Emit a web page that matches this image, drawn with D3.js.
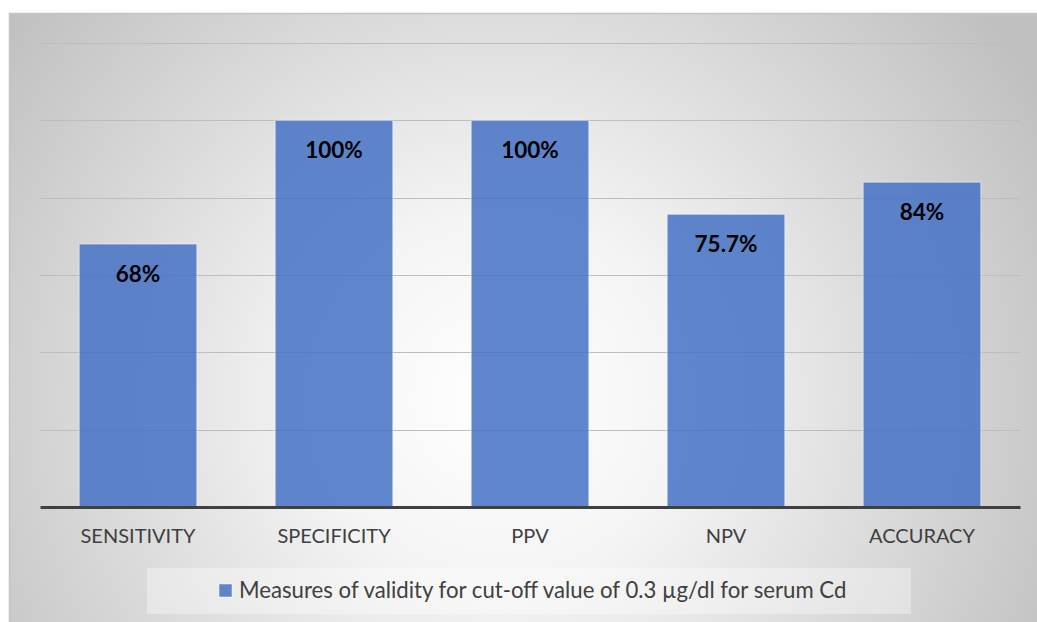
<!DOCTYPE html>
<html>
<head>
<meta charset="utf-8">
<script src="https://cdn.jsdelivr.net/npm/d3@7"></script>
<style>
  html, body { margin: 0; padding: 0; background: #fff; }
  svg { display: block; font-family: Lato, "Open Sans", sans-serif; }
</style>
</head>
<body>
<div id="chart"></div>
<script>
'use strict';

// data
let categories = ['SENSITIVITY', 'SPECIFICITY', 'PPV', 'NPV', 'ACCURACY'];
let values = [0.68, 1.00, 1.00, 0.757, 0.84];
let valueLabels = ['68%', '100%', '100%', '75.7%', '84%'];
let gridTicks = [0.2, 0.4, 0.6, 0.8, 1.0, 1.2];
let seriesName = 'Measures of validity for cut-off value of 0.3 \u00b5g/dl for serum Cd';

let width = 1037,
    height = 622;

let plot = { left: 40, right: 1020, top: 43, bottom: 507 };

let svg = d3.select('#chart').append('svg')
    .attr('width', width)
    .attr('height', height);

// background gradient
let defs = svg.append('defs');
let grad = defs.append('radialGradient')
    .attr('id', 'bg')
    .attr('gradientUnits', 'userSpaceOnUse')
    .attr('cx', 500).attr('cy', 400).attr('r', 620);
grad.append('stop').attr('offset', '0%').attr('stop-color', '#ffffff');
grad.append('stop').attr('offset', '30%').attr('stop-color', '#f4f4f4');
grad.append('stop').attr('offset', '100%').attr('stop-color', '#c0c0c0');

svg.append('rect')
    .attr('x', 9).attr('y', 13)
    .attr('width', width - 9).attr('height', height - 13)
    .attr('fill', 'url(#bg)');
svg.append('line')
    .attr('x1', 9).attr('x2', width)
    .attr('y1', 13.5).attr('y2', 13.5)
    .attr('stroke', '#c4c4c4').attr('stroke-width', 1.5);
svg.append('line')
    .attr('x1', 9.5).attr('x2', 9.5)
    .attr('y1', 13).attr('y2', height)
    .attr('stroke', '#c4c4c4').attr('stroke-width', 1.5);

// scales
let x = d3.scaleBand()
    .domain(categories)
    .range([plot.left, plot.right])
    .paddingInner(0.4)
    .paddingOuter(0.2);

let y = d3.scaleLinear()
    .domain([0, 1.2])
    .range([plot.bottom, plot.top]);

let g = svg.append('g');

// gridlines
g.selectAll('.grid')
    .data(gridTicks)
    .enter().append('line')
    .attr('class', 'grid')
    .attr('x1', plot.left).attr('x2', plot.right)
    .attr('y1', d => Math.round(y(d)) + 0.5)
    .attr('y2', d => Math.round(y(d)) + 0.5)
    .attr('stroke', '#bdbdbd')
    .attr('stroke-width', 1.2);

// bars
g.selectAll('.bar')
    .data(values)
    .enter().append('rect')
    .attr('class', 'bar')
    .attr('x', (d, i) => x(categories[i]))
    .attr('y', d => y(d))
    .attr('width', x.bandwidth())
    .attr('height', d => y(0) - y(d))
    .attr('fill', '#4472c4')
    .attr('fill-opacity', 0.85)
    .attr('stroke', '#ffffff')
    .attr('stroke-opacity', 0.5)
    .attr('stroke-width', 1);

// value labels
g.selectAll('.val')
    .data(values)
    .enter().append('text')
    .attr('class', 'val')
    .attr('x', (d, i) => x(categories[i]) + x.bandwidth() / 2)
    .attr('y', d => y(d) + 38)
    .attr('text-anchor', 'middle')
    .style('font-size', '22.5px')
    .style('font-weight', 'bold')
    .style('fill', '#000')
    .text((d, i) => valueLabels[i]);

// x axis
let xAxis = d3.axisBottom(x).tickSize(0).tickPadding(22);
let gX = g.append('g')
    .attr('transform', 'translate(0,' + plot.bottom + ')')
    .call(xAxis);
gX.select('.domain')
    .attr('stroke', '#404040')
    .attr('stroke-width', 3);
gX.selectAll('text')
    .style('font-size', '20px')
    .style('font-family', 'Lato, "Open Sans", sans-serif')
    .style('fill', '#404040');

// legend
let legend = svg.append('g');
legend.append('rect')
    .attr('x', 147).attr('y', 568)
    .attr('width', 764).attr('height', 46)
    .attr('fill', '#ffffff')
    .attr('fill-opacity', 0.35);
legend.append('rect')
    .attr('x', 219).attr('y', 584)
    .attr('width', 13).attr('height', 13)
    .attr('fill', '#4472c4')
    .attr('fill-opacity', 0.85)
    .attr('stroke', '#ffffff')
    .attr('stroke-opacity', 0.5);
legend.append('text')
    .attr('x', 239).attr('y', 598)
    .style('font-size', '22.2px')
    .style('fill', '#404040')
    .text(seriesName);
</script>
</body>
</html>
